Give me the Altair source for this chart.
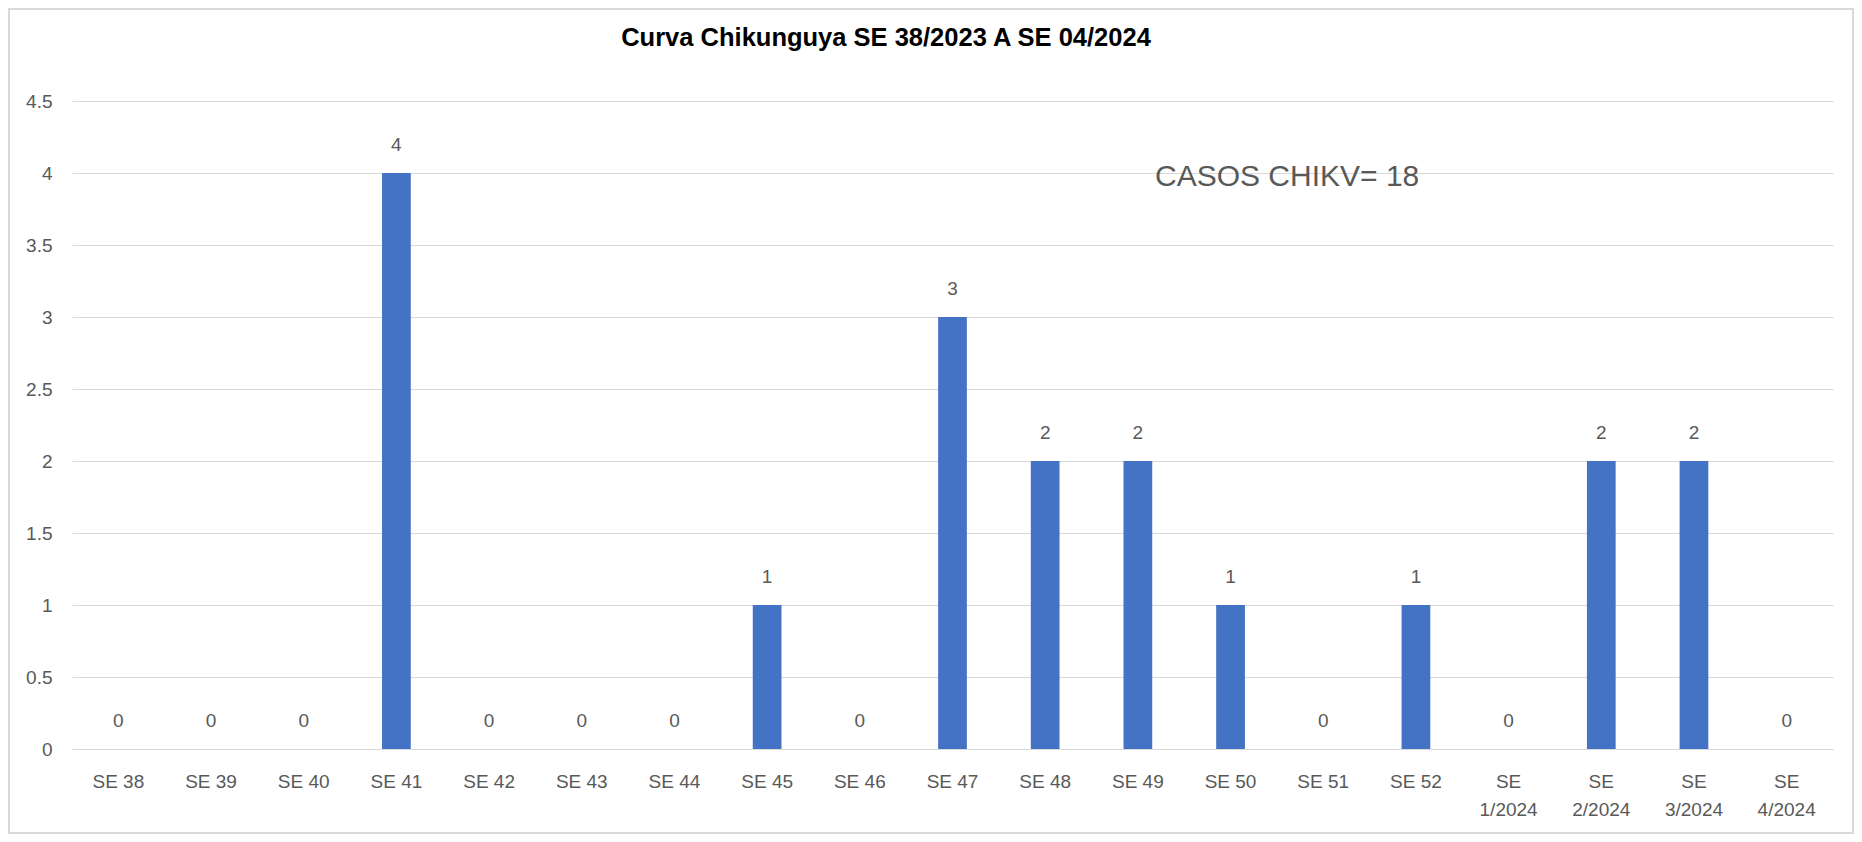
import altair as alt
import pandas as pd

semanas = ["SE 38", "SE 39", "SE 40", "SE 41", "SE 42", "SE 43", "SE 44", "SE 45",
           "SE 46", "SE 47", "SE 48", "SE 49", "SE 50", "SE 51", "SE 52",
           "SE|1/2024", "SE|2/2024", "SE|3/2024", "SE|4/2024"]
casos = [0, 0, 0, 4, 0, 0, 0, 1, 0, 3, 2, 2, 1, 0, 1, 0, 2, 2, 0]
y_ticks = [0, 0.5, 1, 1.5, 2, 2.5, 3, 3.5, 4, 4.5]
titulo = "Curva Chikunguya SE 38/2023 A SE 04/2024"
anotacion = "CASOS CHIKV= 18"

df = pd.DataFrame({"semana": semanas, "casos": casos})

FONT = "Liberation Sans"
GRAY = "#595959"

x_enc = alt.X("semana:N", sort=semanas,
              scale=alt.Scale(paddingInner=0.69, paddingOuter=0.345),
              axis=alt.Axis(title=None, labelAngle=0, ticks=False,
                            labelPadding=23, labelFontSize=19, labelFont=FONT,
                            labelColor=GRAY, labelBaseline="top",
                            labelLineHeight=28,
                            labelExpr="split(datum.label, '|')",
                            domainColor="#D9D9D9", domainWidth=1,
                            grid=False))
y_enc = alt.Y("casos:Q",
              scale=alt.Scale(domain=[0, 4.5], nice=False),
              axis=alt.Axis(title=None, values=y_ticks, ticks=False, format="~g",
                            domain=False, labelPadding=20, labelFontSize=19,
                            labelFont=FONT, labelColor=GRAY,
                            gridColor="#D9D9D9", gridWidth=1))

bars = alt.Chart(df).mark_bar(color="#4472C4").encode(x=x_enc, y=y_enc)

labels = alt.Chart(df).mark_text(
    font=FONT, fontSize=19, color=GRAY, baseline="alphabetic", dy=-22
).encode(x=alt.X("semana:N", sort=semanas), y="casos:Q", text="casos:Q")

note = alt.Chart(pd.DataFrame({"t": [anotacion]})).mark_text(
    font=FONT, fontSize=30, color=GRAY, align="left", baseline="alphabetic"
).encode(x=alt.value(1083), y=alt.value(85), text="t:N")

title_mark = alt.Chart(pd.DataFrame({"t": [titulo]})).mark_text(
    font=FONT, fontSize=25.5, fontWeight="bold", color="#000000",
    align="center", baseline="alphabetic"
).encode(x=alt.value(814), y=alt.value(-55), text="t:N")

frame = alt.Chart(pd.DataFrame({"k": [0]})).mark_rect(
    filled=False, stroke="#D9D9D9", strokeWidth=2
).encode(x=alt.value(-63), x2=alt.value(1781), y=alt.value(-92), y2=alt.value(732))

chart = alt.layer(frame, bars, labels, note, title_mark).properties(
    width=1761, height=648,
    autosize=alt.AutoSizeParams(type="none"),
    padding={"left": 64, "top": 93, "right": 21, "bottom": 85},
).configure(background="white").configure_view(stroke=None)

chart.save("out.html", embed_options={"renderer": "svg", "actions": False})
